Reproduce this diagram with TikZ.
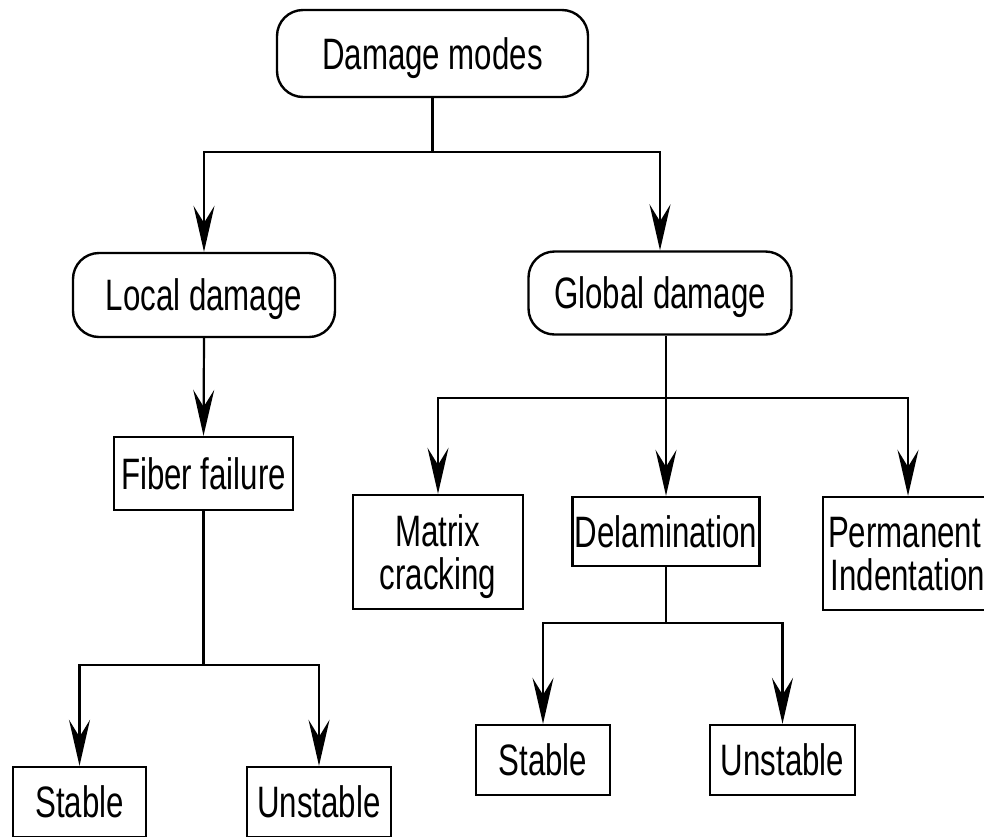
\documentclass[tikz,border=0pt]{standalone}
\usepackage{fontspec}
\setmainfont{Liberation Sans}[FakeStretch=0.71]
\usetikzlibrary{arrows.meta}
\tikzset{
  base/.style={draw=black, line width=2.4pt, inner sep=0pt, align=center,
    font=\fontsize{44}{43}\selectfont, text height=31.5pt, text depth=0pt},
  roundbox/.style={base, rounded corners=26pt},
  sqbox/.style={base},
  twoline/.style={text depth=43pt, text width=160pt},
  conn/.style={line width=2.2pt, draw=black},
  arr/.style={conn, -{Stealth[length=46pt, width=21pt, inset=17pt]}},
}
\begin{document}
\begin{tikzpicture}[x=1pt, y=-1pt]
\clip (0,0) rectangle (984,836);
\fill[white] (0,0) rectangle (984,836);

\node[roundbox, minimum width=311pt, minimum height=87pt] (dm) at (432.5,53.5) {Damage modes};
\node[roundbox, minimum width=262pt, minimum height=84pt] (local) at (204,295) {Local damage};
\node[roundbox, minimum width=263pt, minimum height=83pt] (global) at (660,293) {Global damage};
\node[sqbox, minimum width=179pt, minimum height=73pt] (fiber) at (203.5,473.5) {Fiber failure};
\node[sqbox, twoline, minimum width=170pt, minimum height=114pt] (matrix) at (438,552) {\centering Matrix\\cracking};
\node[sqbox, minimum width=187pt, minimum height=69pt] (delam) at (666,531.5) {Delamination};
\node[sqbox, twoline, minimum width=170pt, minimum height=113pt] (perm) at (908,553.5) {\raggedright Permanent\\Indentation};
\node[sqbox, minimum width=133pt, minimum height=70pt] (lstable) at (79.5,802) {Stable};
\node[sqbox, minimum width=144pt, minimum height=70pt] (lunstable) at (319,802) {Unstable};
\node[sqbox, minimum width=134pt, minimum height=70pt] (rstable) at (543,760) {Stable};
\node[sqbox, minimum width=145pt, minimum height=70pt] (runstable) at (782.5,760) {Unstable};

% top level
\coordinate (j1) at (dm.south |- 0,152);
\draw[conn] (dm.south) -- (j1);
\draw[arr] (j1) -| (local.north);
\draw[arr] (j1) -| (global.north);

% local branch
\draw[arr] (local.south) -- (fiber.north);
\coordinate (j2) at (fiber.south |- 0,665);
\draw[conn] (fiber.south) -- (j2);
\draw[arr] (j2) -| (lstable.north);
\draw[arr] (j2) -| (lunstable.north);

% global branch
\coordinate (g1) at (delam.north |- global.south);
\coordinate (j3) at (delam.north |- 0,398);
\draw[conn] (g1) -- (j3);
\draw[arr] (j3) -| (matrix.north);
\draw[arr] (j3) -- (delam.north);
\draw[arr] (j3) -| (perm.north);

% delamination branch
\coordinate (j4) at (delam.south |- 0,623);
\draw[conn] (delam.south) -- (j4);
\draw[arr] (j4) -| (rstable.north);
\draw[arr] (j4) -| (runstable.north);
\end{tikzpicture}
\end{document}
